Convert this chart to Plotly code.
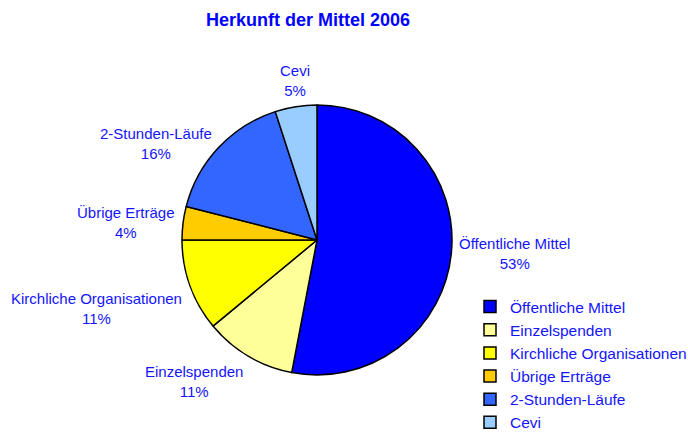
import math
import plotly.graph_objects as go

categories = ["Öffentliche Mittel", "Einzelspenden", "Kirchliche Organisationen",
              "Übrige Erträge", "2-Stunden-Läufe", "Cevi"]
values = [53, 11, 11, 4, 16, 5]
colors = ["#0000FF", "#FFFF99", "#FFFF00", "#FFCC00", "#3366FF", "#99CCFF"]

W, H = 688, 432
CX, CY, R = 317, 240, 135
TXT = "#1414FF"
FONT = "Liberation Sans, Arial, sans-serif"

fig = go.Figure(go.Pie(
    labels=categories, values=values, sort=False, direction="clockwise", rotation=0,
    marker=dict(colors=colors, line=dict(color="black", width=1.5)),
    textinfo="none", hoverinfo="label+percent",
    domain=dict(x=[(CX - R) / W, (CX + R) / W], y=[(H - CY - R) / H, (H - CY + R) / H]),
))

total = sum(values)
cum = 0
annotations = []
for lab, v in zip(categories, values):
    mid = (cum + v / 2) / total * 2 * math.pi
    cum += v
    ux, uy = math.sin(mid), -math.cos(mid)  # uy positive = downward
    d = R + 6
    px, py = CX + ux * d, CY + uy * d
    xa = "left" if ux > 0.3 else ("right" if ux < -0.3 else "center")
    ya = "top" if uy > 0.3 else ("bottom" if uy < -0.75 else "middle")
    annotations.append(dict(
        x=px / W, y=1 - py / H, xref="paper", yref="paper", xanchor=xa, yanchor=ya,
        text=f"{lab}<br>{round(v / total * 100)}%", showarrow=False, align="center",
        font=dict(family=FONT, size=15, color=TXT),
    ))

fig.update_layout(
    width=W, height=H, margin=dict(l=0, r=0, t=0, b=0, autoexpand=False),
    paper_bgcolor="white", plot_bgcolor="white",
    title=dict(text="<b>Herkunft der Mittel 2006</b>", x=308 / W, xanchor="center",
               y=1 - 20 / H, yanchor="middle",
               font=dict(family=FONT, size=18, color="#0000FF")),
    annotations=annotations,
    legend=dict(x=470 / W, y=1 - 290 / H, xanchor="left", yanchor="top",
                font=dict(family=FONT, size=15.5, color=TXT), tracegroupgap=0,
                itemwidth=30),
    showlegend=True,
)
fig.write_html("out.html", post_script="document.body.style.margin='0';",
               config={"displayModeBar": False})
